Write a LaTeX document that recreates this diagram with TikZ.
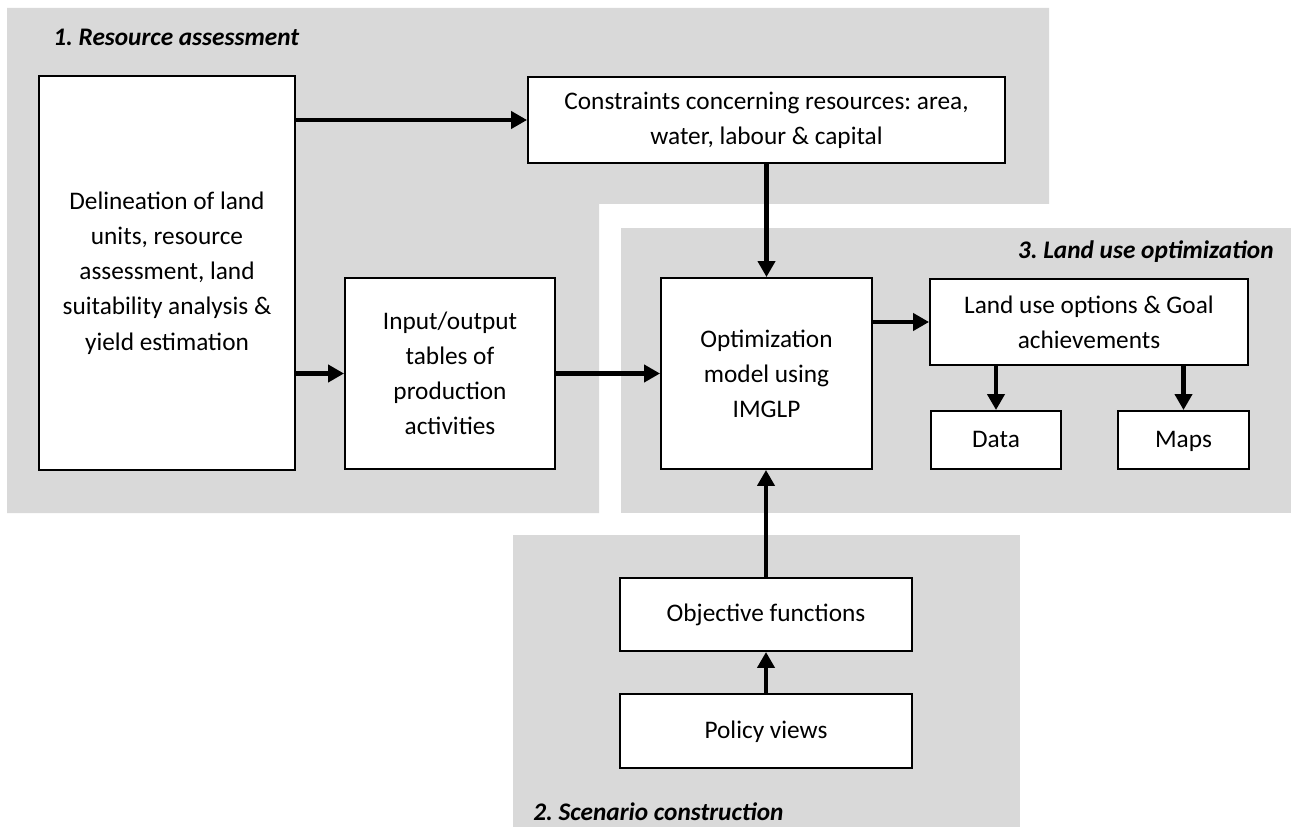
\documentclass[tikz,border=0pt]{standalone}
\usepackage{fontspec}
\setmainfont{Carlito}
\usetikzlibrary{arrows.meta}
\definecolor{panelgray}{RGB}{217,217,217}
\frenchspacing

\begin{document}
\begin{tikzpicture}[x=0.02cm,y=-0.02cm,
	box/.style={draw,line width=1.1pt,fill=white,align=center,inner sep=0pt,font=\fontsize{14.4}{20}\selectfont},
	flow/.style={line width=2.8pt,-{Triangle[length=0.32cm,width=0.34cm]}},
	heading/.style={inner sep=0pt,font=\fontsize{14.4}{18}\selectfont\bfseries\itshape}]
	\useasboundingbox (0,0) rectangle (1291,827);

	%The three grey panels
	\fill[panelgray] (7,8) -- (1049,8) -- (1049,204) -- (599,204) -- (599,513) -- (7,513) -- cycle;
	\fill[panelgray] (621,228) rectangle (1291,513);
	\fill[panelgray] (513,535) rectangle (1020,827);

	\node[heading,anchor=base west] (h1) at (53,46) {1. Resource assessment};
	\node[heading,anchor=base east] (h3) at (1274,259) {3. Land use optimization};
	\node[heading,anchor=base west] (h2) at (533,820) {2. Scenario construction};

	%Resource assessment
	\node[box,minimum width=5.12cm,minimum height=7.88cm] (deli) at (167,273) {Delineation of land\\ units, resource\\ assessment, land\\ suitability analysis \&\\ yield estimation};
	\node[box,minimum width=9.54cm,minimum height=1.72cm] (cons) at (766.5,120) {Constraints concerning resources: area,\\ water, labour \& capital};
	\node[box,minimum width=4.2cm,minimum height=3.82cm] (io) at (450,373.5) {Input/output\\ tables of\\ production\\ activities};

	%Land use optimization
	\node[box,minimum width=4.22cm,minimum height=3.82cm] (opt) at (766.5,373.5) {Optimization\\ model using\\ IMGLP};
	\node[box,minimum width=6.36cm,minimum height=1.72cm] (land) at (1089,322) {Land use options \& Goal\\ achievements};
	\node[box,minimum width=2.6cm,minimum height=1.16cm] (data) at (996,440) {\strut Data};
	\node[box,minimum width=2.62cm,minimum height=1.16cm] (maps) at (1183.5,440) {\strut Maps};

	%Scenario construction
	\node[box,minimum width=5.84cm,minimum height=1.46cm] (obj) at (766,614.5) {\strut Objective functions};
	\node[box,minimum width=5.84cm,minimum height=1.48cm] (pol) at (766,731) {\strut Policy views};

	%Arrows
	\draw[flow] (deli.east |- cons.west) -- (cons.west);
	\draw[flow] (deli.east |- io.west) -- (io.west);
	\draw[flow] (io) -- (opt);
	\draw[flow] (cons) -- (opt);
	\draw[flow] (opt.east |- land.west) -- (land.west);
	\draw[flow] (land.south -| data.north) -- (data.north);
	\draw[flow] (land.south -| maps.north) -- (maps.north);
	\draw[flow] (pol) -- (obj);
	\draw[flow] (obj.north) -- (obj.north |- opt.south);

\end{tikzpicture}
\end{document}
